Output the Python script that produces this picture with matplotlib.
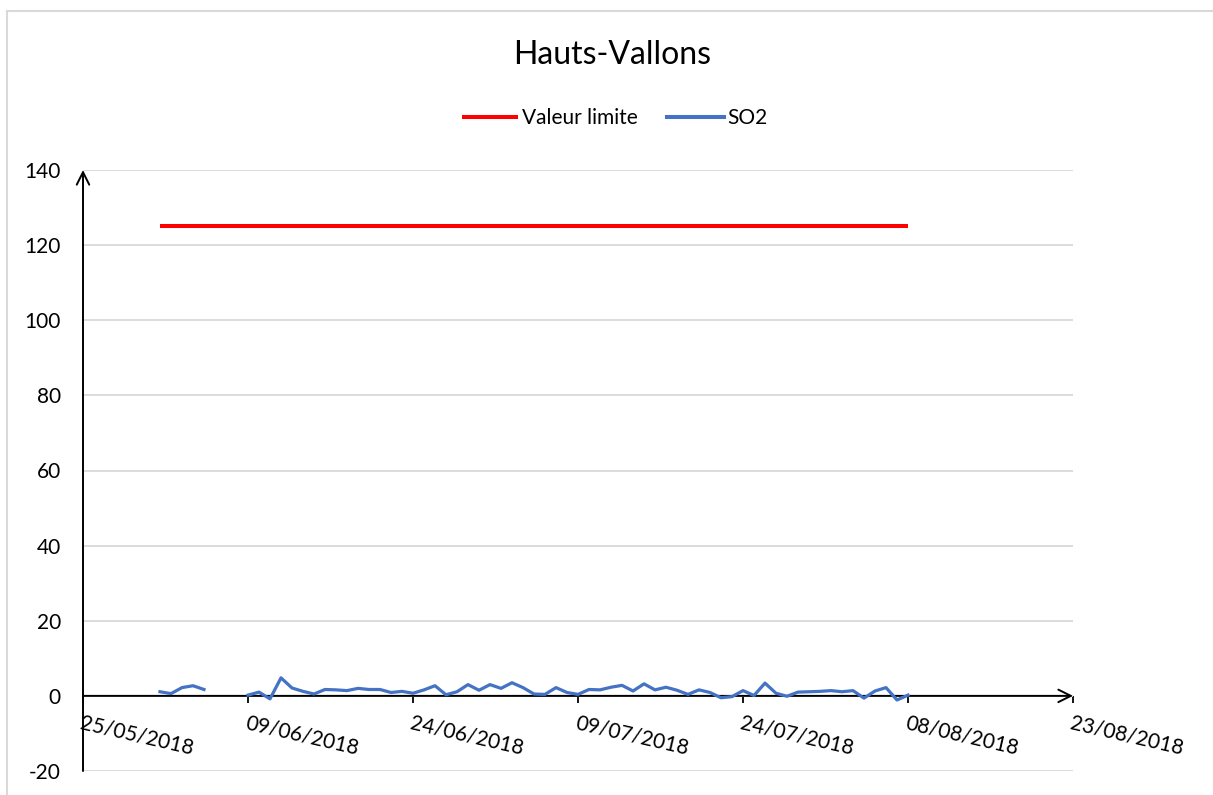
import matplotlib
matplotlib.use("Agg")
import matplotlib.pyplot as plt
import matplotlib.dates as mdates
from matplotlib.lines import Line2D
import numpy as np
import pandas as pd

plt.rcParams["font.family"] = ["Lato", "DejaVu Sans"]
plt.rcParams["axes.unicode_minus"] = False

# ── Data ──
so2_dates = pd.date_range("2018-06-01", "2018-08-08", freq="D")
so2_values = [
    # June
    1.1, 0.6, 2.2, 2.7, 1.7, np.nan, np.nan, np.nan, 0.2, 1.0,
    -0.8, 4.8, 2.1, 1.2, 0.5, 1.7, 1.6, 1.4, 2.0, 1.7,
    1.7, 0.9, 1.2, 0.7, 1.6, 2.7, 0.3, 1.1, 3.0, 1.5,
    # July
    3.0, 2.0, 3.5, 2.2, 0.5, 0.4, 2.2, 0.9, 0.4, 1.7,
    1.6, 2.3, 2.8, 1.3, 3.2, 1.6, 2.3, 1.5, 0.4, 1.6,
    0.9, -0.5, -0.2, 1.4, 0.1, 3.4, 0.7, -0.1, 1.0, 1.1, 1.2,
    # August
    1.4, 1.1, 1.4, -0.6, 1.3, 2.2, -1.1, 0.2,
]
limit_dates = [pd.Timestamp("2018-06-01"), pd.Timestamp("2018-08-08")]
limit_values = [125, 125]

x_start = pd.Timestamp("2018-05-25")
x_end = pd.Timestamp("2018-08-23")
x_ticks = pd.date_range(x_start, x_end, freq="15D")
y_ticks = [-20, 0, 20, 40, 60, 80, 100, 120, 140]

# ── Figure ──
W, H = 1213, 795
fig = plt.figure(figsize=(W / 100, H / 100), dpi=100)
ax = fig.add_axes([83 / W, 1 - 771 / H, (1073 - 83) / W, (771 - 170) / H])

ax.plot(limit_dates, limit_values, color="#ff0000", lw=2.9,
        label="Valeur limite", solid_capstyle="butt", zorder=3)
ax.plot(so2_dates, so2_values, color="#4472c4", lw=2.3,
        label="SO2", solid_joinstyle="round", zorder=4)

ax.set_xlim(x_start, x_end)
ax.set_ylim(-20, 140)
ax.set_yticks(y_ticks)
ax.set_xticks(x_ticks)
ax.xaxis.set_major_formatter(mdates.DateFormatter("%d/%m/%Y"))

for side in ["top", "right", "left", "bottom"]:
    ax.spines[side].set_visible(False)
ax.spines["bottom"].set_position(("data", 0))

ax.yaxis.grid(True, color="#d9d9d9", lw=1.3)
ax.set_axisbelow(True)
ax.tick_params(axis="y", length=0, pad=16, labelsize=15)
ax.tick_params(axis="x", direction="out", length=5, width=1.3,
               color="black", labelsize=15, pad=7)
for lbl in ax.get_xticklabels():
    lbl.set_rotation(-13)
    lbl.set_ha("left")
    lbl.set_va("top")
    lbl.set_rotation_mode("anchor")

# axis lines with open arrow heads
arrow = dict(arrowstyle="->, head_length=0.9, head_width=0.45", lw=1.4,
             color="black", shrinkA=0, shrinkB=0)
ax.annotate("", xy=(x_end, 0), xytext=(x_start, 0), arrowprops=arrow,
            annotation_clip=False, zorder=2)
ax.annotate("", xy=(x_start, 140), xytext=(x_start, -20), arrowprops=arrow,
            annotation_clip=False, zorder=2)

fig.text(0.505, 1 - 55 / H, "Hauts-Vallons", ha="center", va="center", fontsize=23)
leg = fig.legend(loc="center", bbox_to_anchor=(0.507, 1 - 118 / H), ncol=2,
                 frameon=False, fontsize=15, handlelength=2.7, handletextpad=0.2,
                 columnspacing=1.4)
for h in leg.get_lines():
    h.set_linewidth(2.9)

# chart area border (light gray)
fig.add_artist(Line2D([7 / W, 1], [1 - 11 / H] * 2, transform=fig.transFigure,
                      color="#d9d9d9", lw=1.5))
fig.add_artist(Line2D([7 / W] * 2, [0, 1 - 11 / H], transform=fig.transFigure,
                      color="#d9d9d9", lw=1.5))

fig.savefig("out.png", dpi=100)
